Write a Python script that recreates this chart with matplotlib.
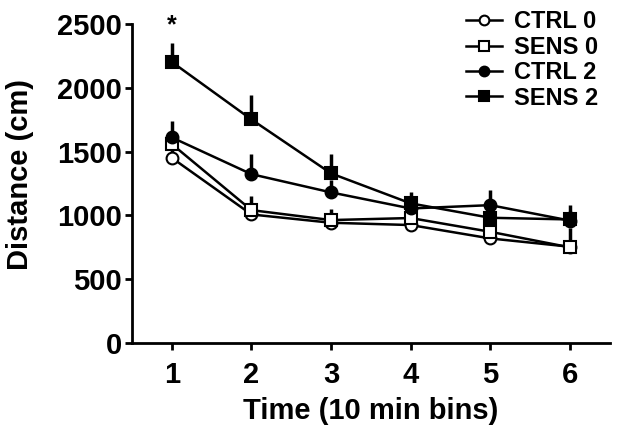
import matplotlib
matplotlib.use("Agg")
import matplotlib.pyplot as plt
from matplotlib.lines import Line2D

plt.rcParams['font.family'] = ['Liberation Sans', 'DejaVu Sans']
plt.rcParams['font.weight'] = 'bold'

time_bins = [1, 2, 3, 4, 5, 6]

ctrl0 = [1452, 1008, 943, 925, 820, 755]
ctrl0_sem = [60, 50, 50, 45, 55, 150]
sens0 = [1560, 1042, 964, 980, 872, 750]
sens0_sem = [70, 112, 90, 60, 60, 60]
ctrl2 = [1612, 1324, 1181, 1055, 1081, 960]
ctrl2_sem = [130, 157, 100, 80, 118, 120]
sens2 = [2204, 1753, 1330, 1095, 982, 969]
sens2_sem = [150, 195, 150, 91, 70, 70]

series = [
    ("CTRL 0", ctrl0, ctrl0_sem, "o", "white"),
    ("SENS 0", sens0, sens0_sem, "s", "white"),
    ("CTRL 2", ctrl2, ctrl2_sem, "o", "black"),
    ("SENS 2", sens2, sens2_sem, "s", "black"),
]

fig = plt.figure(figsize=(6.18, 4.32), dpi=100)
ax = fig.add_axes([0.2136, 0.206, 0.773, 0.738])

handles = []
for label, y, sem, marker, face in series:
    ax.errorbar(time_bins, y, yerr=[[0] * len(sem), sem], fmt="-" + marker, color="black",
                mfc=face, mec="black", mew=1.5, ms=8.5, lw=1.8, elinewidth=2.5, capsize=0)
    handles.append(Line2D([], [], color="black", lw=1.8, marker=marker, mfc=face,
                          mec="black", mew=1.5, ms=7, label=label))

# significance marker at the first bin
ax.text(1, 2490, "*", ha="center", va="center", fontsize=18, fontweight="bold", clip_on=False)

ax.set_xlim(0.5, 6.5)
ax.set_ylim(0, 2500)
ax.set_xticks(time_bins)
ax.set_yticks([0, 500, 1000, 1500, 2000, 2500])
ax.spines["top"].set_visible(False)
ax.spines["right"].set_visible(False)
for s in ["left", "bottom"]:
    ax.spines[s].set_linewidth(2)
ax.tick_params(width=2, length=5, labelsize=21, direction="out")
ax.tick_params(axis="y", pad=2)
ax.tick_params(axis="x", pad=8)
for lab in ax.get_xticklabels() + ax.get_yticklabels():
    lab.set_fontweight("bold")

ax.set_xlabel("Time (10 min bins)", fontsize=21, fontweight="bold")
ax.set_ylabel("Distance (cm)", fontsize=21, fontweight="bold")
ax.xaxis.set_label_coords(0.5, -0.17)
ax.yaxis.set_label_coords(-0.205, 0.53)

leg = ax.legend(handles=handles, loc="upper right", bbox_to_anchor=(1.0, 1.08), frameon=False,
                fontsize=17, handlelength=1.5, handletextpad=0.5, labelspacing=0.1,
                borderaxespad=0.1)
for t in leg.get_texts():
    t.set_fontweight("bold")

fig.savefig("out.png", dpi=100)
